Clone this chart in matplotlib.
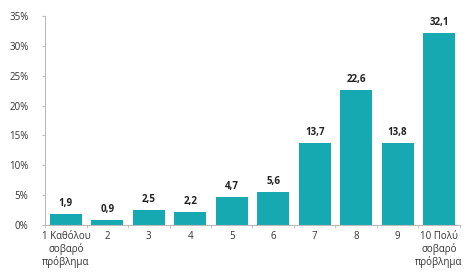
import matplotlib
matplotlib.use("Agg")
import matplotlib.pyplot as plt
from matplotlib.ticker import FuncFormatter, MultipleLocator

categories = ["1 Καθόλου\nσοβαρό\nπρόβλημα", "2", "3", "4", "5", "6", "7", "8", "9", "10 Πολύ\nσοβαρό\nπρόβλημα"]
values = [1.9, 0.9, 2.5, 2.2, 4.7, 5.6, 13.7, 22.6, 13.8, 32.1]
value_labels = ["1,9", "0,9", "2,5", "2,2", "4,7", "5,6", "13,7", "22,6", "13,8", "32,1"]

plt.rcParams['font.family'] = ['Open Sans', 'DejaVu Sans']

fig = plt.figure(figsize=(4.75, 2.75), dpi=100)
ax = fig.add_axes([0.095, 0.182, 0.873, 0.760])
x = list(range(len(categories)))
bars = ax.bar(x, values, width=0.77, color="#17a9b1")
for xi, v, lab in zip(x, values, value_labels):
    ax.text(xi, v + 0.8, lab, ha="center", va="bottom", fontsize=7, fontweight="bold", color="#222222")

ax.set_xlim(-0.5, 9.5)
ax.set_ylim(0, 35)
ax.yaxis.set_major_locator(MultipleLocator(5))
ax.yaxis.set_major_formatter(FuncFormatter(lambda v, p: f"{int(v)}%"))
ax.set_xticks(x)
ax.set_xticklabels(categories, fontsize=7, color="#333333", linespacing=1.15)
ax.set_xticks([i + 0.5 for i in range(-1, 10)], minor=True)
ax.tick_params(axis="x", which="major", length=0, pad=4)
ax.tick_params(axis="x", which="minor", length=2, color="#bbbbbb")
ax.tick_params(axis="y", length=2, color="#bbbbbb", labelsize=7, labelcolor="#333333", pad=10)
for s in ["top", "right"]:
    ax.spines[s].set_visible(False)
ax.spines["left"].set_color("#bbbbbb")
ax.spines["bottom"].set_color("#bbbbbb")
ax.spines["left"].set_linewidth(0.8)
ax.spines["bottom"].set_linewidth(0.8)

fig.savefig("out.png", dpi=100)
